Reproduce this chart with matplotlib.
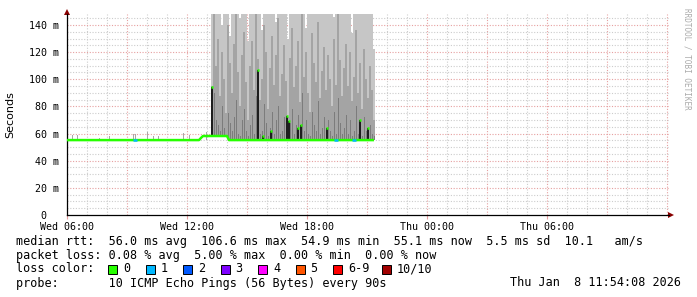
import numpy as np
import matplotlib
matplotlib.use("Agg")
import matplotlib.pyplot as plt
from matplotlib.patches import Rectangle

# time axis: hours since Wed 06:00
median_t = [0.0, 6.6, 6.7, 6.8, 8.0, 8.1, 15.35]
median_v = [55.2, 55.2, 56.8, 58.2, 58.2, 55.2, 55.2]

# small smoke spikes before the noisy period
pre_t = [0.25, 0.5, 1.6, 2.1, 3.3, 3.4, 4.0, 4.3, 4.55, 5.8, 6.1, 6.95]
pre_top = [59, 58.7, 57, 58, 60, 60, 61, 58, 58, 60.5, 59, 61]

# noisy period, one column every 0.1 h starting at 7.2 h
smoke_start = 7.2
smoke_step = 0.1
smoke_top = [148, 148, 148, 148, 148, 140, 148, 148, 148, 132, 148, 148, 148, 148, 145, 148, 148, 148, 128, 148,
             148, 148, 148, 148, 148, 136, 148, 148, 148, 148, 148, 148, 142, 148, 148, 148, 148, 148, 130, 148,
             148, 148, 148, 148, 148, 148, 148, 138, 148, 148, 148, 148, 148, 148, 148, 148, 148, 148, 148, 148,
             148, 146, 148, 148, 148, 148, 148, 148, 148, 148, 134, 148, 148, 148, 148, 148, 148, 148, 148, 148,
             148, 122]
smoke_mid = [95, 148, 110, 130, 88, 120, 100, 75, 140, 112, 90, 126, 148, 105, 80, 118, 135, 98, 70, 110,
             128, 92, 148, 115, 85, 100, 140, 120, 78, 108, 132, 96, 118, 145, 88, 104, 125, 99, 72, 116,
             138, 94, 110, 128, 83, 148, 102, 120, 90, 76, 134, 112, 98, 142, 86, 106, 124, 92, 118, 100,
             80, 130, 96, 148, 114, 88, 108, 126, 95, 120, 84, 102, 136, 90, 112, 78, 122, 100, 86, 110,
             92, 70]
smoke_low = [60, 90, 70, 66, 62, 80, 64, 58, 75, 68, 62, 72, 85, 60, 58, 70, 78, 62, 58, 66,
             74, 60, 88, 70, 60, 62, 82, 68, 58, 64, 76, 60, 70, 80, 60, 62, 72, 64, 58, 68,
             78, 60, 66, 74, 58, 90, 62, 70, 60, 58, 76, 66, 62, 84, 60, 64, 72, 60, 70, 62,
             58, 76, 60, 86, 68, 60, 64, 74, 60, 70, 58, 62, 80, 60, 66, 58, 72, 62, 60, 66,
             60, 58]

# columns where the median itself jumps up
spike_t = [7.25, 9.55, 9.8, 10.2, 11.0, 11.1, 11.55, 11.7, 13.0, 14.65, 15.05]
spike_v = [94, 106.6, 58, 62, 73, 69, 64, 66, 64, 70, 64]

loss1_t = [3.4, 13.45, 14.35]

x_ticks = [0, 6, 12, 18, 24]
x_labels = ["Wed 06:00", "Wed 12:00", "Wed 18:00", "Thu 00:00", "Thu 06:00"]
y_ticks = [0, 20, 40, 60, 80, 100, 120, 140]
y_labels = ["0  ", "20 m", "40 m", "60 m", "80 m", "100 m", "120 m", "140 m"]

loss_names = ["0", "1", "2", "3", "4", "5", "6-9", "10/10"]
loss_colors = ["#26ff00", "#00b8ff", "#0059ff", "#7e00ff", "#ff00ff", "#ff5500", "#ff0000", "#a10000"]
loss_x = [108, 145.5, 183, 220.5, 258, 295.5, 333, 382]

W, H = 697, 297
MONO = "DejaVu Sans Mono"
fig = plt.figure(figsize=(W / 100, H / 100), dpi=100)
ax = fig.add_axes([67 / W, (H - 215) / H, (669 - 67) / W, (215 - 14) / H])
ax.set_xlim(0, 30.1)
ax.set_ylim(0, 148.1)

# grid
for h in range(0, 31):
    if h % 3 == 0:
        ax.axvline(h, color="#e6a0a0", lw=0.8, ls=(0, (1, 1.5)), zorder=0)
    else:
        ax.axvline(h, color="#cccccc", lw=0.8, ls=(0, (1, 1.5)), zorder=0)
for v in range(5, 150, 5):
    if v % 20 == 0:
        ax.axhline(v, color="#e6a0a0", lw=0.8, ls=(0, (1, 1.5)), zorder=0)
    else:
        ax.axhline(v, color="#cccccc", lw=0.8, ls=(0, (1, 1.5)), zorder=0)

# smoke
smoke_t = smoke_start + smoke_step * np.arange(len(smoke_top))
base = np.interp(smoke_t + smoke_step / 2, median_t, median_v)
ax.bar(smoke_t, np.array(smoke_top) - base, bottom=base, width=smoke_step, align="edge",
       color="#c6c6c6", linewidth=0, zorder=1)
ax.bar(smoke_t, np.array(smoke_mid) - base, bottom=base, width=smoke_step, align="edge",
       color="#a4a4a4", linewidth=0, zorder=2)
ax.bar(smoke_t + smoke_step * 0.5, np.array(smoke_low) - base, bottom=base, width=smoke_step * 0.5,
       align="edge", color="#7c7c7c", linewidth=0, zorder=3)
ax.bar(pre_t, np.array(pre_top) - 55.2, bottom=55.2, width=0.05, align="edge",
       color="#a8a8a8", linewidth=0, zorder=1)

sb = np.interp(spike_t, median_t, median_v)
ax.bar(spike_t, np.array(spike_v) - sb, bottom=sb, width=0.1, align="center",
       color="#1e1e1e", linewidth=0, zorder=4)

# median line
ax.plot(median_t, median_v, color="#26ff00", lw=1.8, zorder=5, solid_capstyle="butt")
ax.hlines(spike_v, np.array(spike_t) - 0.07, np.array(spike_t) + 0.07, color="#26ff00", lw=1.8, zorder=6)
ax.hlines(np.interp(loss1_t, median_t, median_v), np.array(loss1_t) - 0.08, np.array(loss1_t) + 0.08,
          color="#00b8ff", lw=1.8, zorder=6)

# axes
for s in ["top", "right"]:
    ax.spines[s].set_visible(False)
for s in ["left", "bottom"]:
    ax.spines[s].set_color("black")
    ax.spines[s].set_linewidth(0.9)
ax.plot([1.004], [0], marker=">", transform=ax.transAxes, clip_on=False, color="#8b0000", ms=4, mew=0)
ax.plot([0], [1.012], marker="^", transform=ax.transAxes, clip_on=False, color="#8b0000", ms=4, mew=0)

ax.set_xticks(x_ticks)
ax.set_xticklabels(x_labels, fontfamily=MONO, fontsize=7.2)
ax.set_yticks(y_ticks)
ax.set_yticklabels(y_labels, fontfamily=MONO, fontsize=7.2)
ax.tick_params(axis="x", length=3, color="#e6a0a0", pad=2)
ax.tick_params(axis="y", length=0, pad=6)
ax.set_ylabel("Seconds", fontsize=8, fontfamily="DejaVu Sans")
ax.yaxis.set_label_coords(-(67 - 15) / (669 - 67), 0.5)


def ftext(x, y, s, **kw):
    fig.text(x / W, 1 - y / H, s, va="center", fontfamily=MONO, fontsize=8.5, **kw)


ftext(16, 241, "median rtt:  56.0 ms avg  106.6 ms max  54.9 ms min  55.1 ms now  5.5 ms sd  10.1   am/s")
ftext(16, 255, "packet loss: 0.08 % avg  5.00 % max  0.00 % min  0.00 % now")
ftext(16, 269, "loss color:")
for name, col, lx in zip(loss_names, loss_colors, loss_x):
    fig.add_artist(Rectangle((lx / W, 1 - 273.5 / H), 9 / W, 9 / H, transform=fig.transFigure,
                             facecolor=col, edgecolor="black", lw=0.7))
    ftext(lx + 15, 269, name)
ftext(16, 283, "probe:       10 ICMP Echo Pings (56 Bytes) every 90s")
ftext(681, 283, "Thu Jan  8 11:54:08 2026", ha="right")

fig.text(687 / W, 1 - 59 / H, "RRDTOOL / TOBI OETIKER", rotation=270, ha="center", va="center",
         fontsize=5.5, color="#aaaaaa", fontfamily=MONO)

fig.savefig("out.png", dpi=100, facecolor="white")
